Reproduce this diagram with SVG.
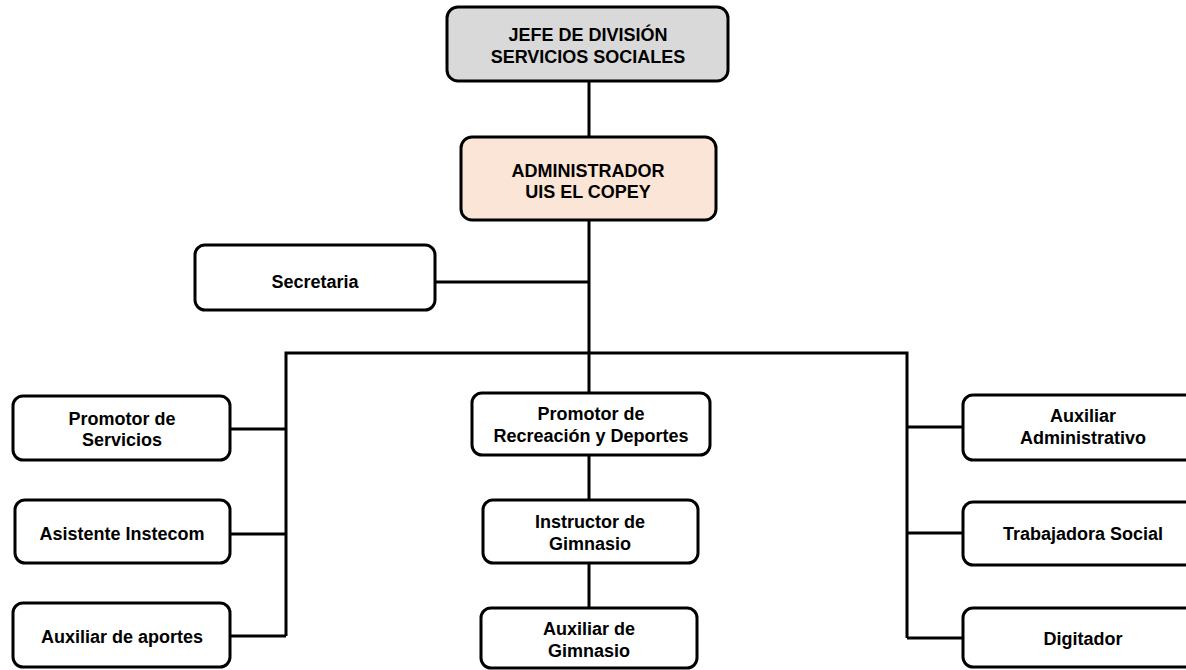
<svg xmlns="http://www.w3.org/2000/svg" width="1186" height="670" viewBox="0 0 1186 670">
<style>
.box{fill:#fff;stroke:#000;stroke-width:3}
.t{font-family:"Liberation Sans",Arial,sans-serif;font-weight:bold;font-size:18px;fill:#000;text-anchor:middle}
.c{fill:none;stroke:#000;stroke-width:3;stroke-linejoin:miter}
</style>
<rect width="1186" height="670" fill="#fff"/>
<g id="connectors">
<line class="c" x1="589" y1="81" x2="589" y2="137"/>
<line class="c" x1="589" y1="220" x2="589" y2="393"/>
<line class="c" x1="435" y1="282" x2="589" y2="282"/>
<polyline class="c" points="286,636 286,353 907,353 907,638"/>
<line class="c" x1="230" y1="429" x2="286" y2="429"/>
<line class="c" x1="230" y1="534" x2="286" y2="534"/>
<line class="c" x1="230" y1="636" x2="286" y2="636"/>
<line class="c" x1="907" y1="427" x2="963" y2="427"/>
<line class="c" x1="907" y1="533" x2="963" y2="533"/>
<line class="c" x1="907" y1="638" x2="963" y2="638"/>
<line class="c" x1="589" y1="455" x2="589" y2="500"/>
<line class="c" x1="589" y1="563" x2="589" y2="608"/>
</g>
<g id="jefe">
<rect class="box" x="447" y="7" width="281" height="74" rx="11" style="fill:#d9d9d9"/>
<text class="t" x="588" y="41">JEFE DE DIVISIÓN</text>
<text class="t" x="588" y="63">SERVICIOS SOCIALES</text>
</g>
<g id="administrador">
<rect class="box" x="461" y="137" width="255" height="83" rx="11" style="fill:#fbe5d6"/>
<text class="t" x="588" y="177">ADMINISTRADOR</text>
<text class="t" x="588" y="198">UIS EL COPEY</text>
</g>
<g id="secretaria">
<rect class="box" x="195" y="245" width="240" height="65" rx="10"/>
<text class="t" x="315" y="288">Secretaria</text>
</g>
<g id="promotor-servicios">
<rect class="box" x="13" y="396" width="217" height="64" rx="10"/>
<text class="t" x="122" y="425">Promotor de</text>
<text class="t" x="122" y="446">Servicios</text>
</g>
<g id="asistente-instecom">
<rect class="box" x="15" y="500" width="215" height="63" rx="10"/>
<text class="t" x="122" y="540">Asistente Instecom</text>
</g>
<g id="auxiliar-aportes">
<rect class="box" x="13" y="603" width="217" height="64" rx="10"/>
<text class="t" x="122" y="643">Auxiliar de aportes</text>
</g>
<g id="promotor-recreacion">
<rect class="box" x="472" y="393" width="238" height="62" rx="10"/>
<text class="t" x="591" y="420">Promotor de</text>
<text class="t" x="591" y="442">Recreación y Deportes</text>
</g>
<g id="instructor-gimnasio">
<rect class="box" x="483" y="500" width="215" height="63" rx="10"/>
<text class="t" x="590" y="528">Instructor de</text>
<text class="t" x="590" y="550">Gimnasio</text>
</g>
<g id="auxiliar-gimnasio">
<rect class="box" x="481" y="608" width="216" height="60" rx="10"/>
<text class="t" x="589" y="635">Auxiliar de</text>
<text class="t" x="589" y="657">Gimnasio</text>
</g>
<g id="auxiliar-administrativo">
<rect class="box" x="963" y="395" width="240" height="65" rx="10"/>
<text class="t" x="1083" y="422">Auxiliar</text>
<text class="t" x="1083" y="444">Administrativo</text>
</g>
<g id="trabajadora-social">
<rect class="box" x="963" y="502" width="240" height="63" rx="10"/>
<text class="t" x="1083" y="540">Trabajadora Social</text>
</g>
<g id="digitador">
<rect class="box" x="963" y="608" width="240" height="59" rx="10"/>
<text class="t" x="1083" y="645">Digitador</text>
</g>
</svg>
